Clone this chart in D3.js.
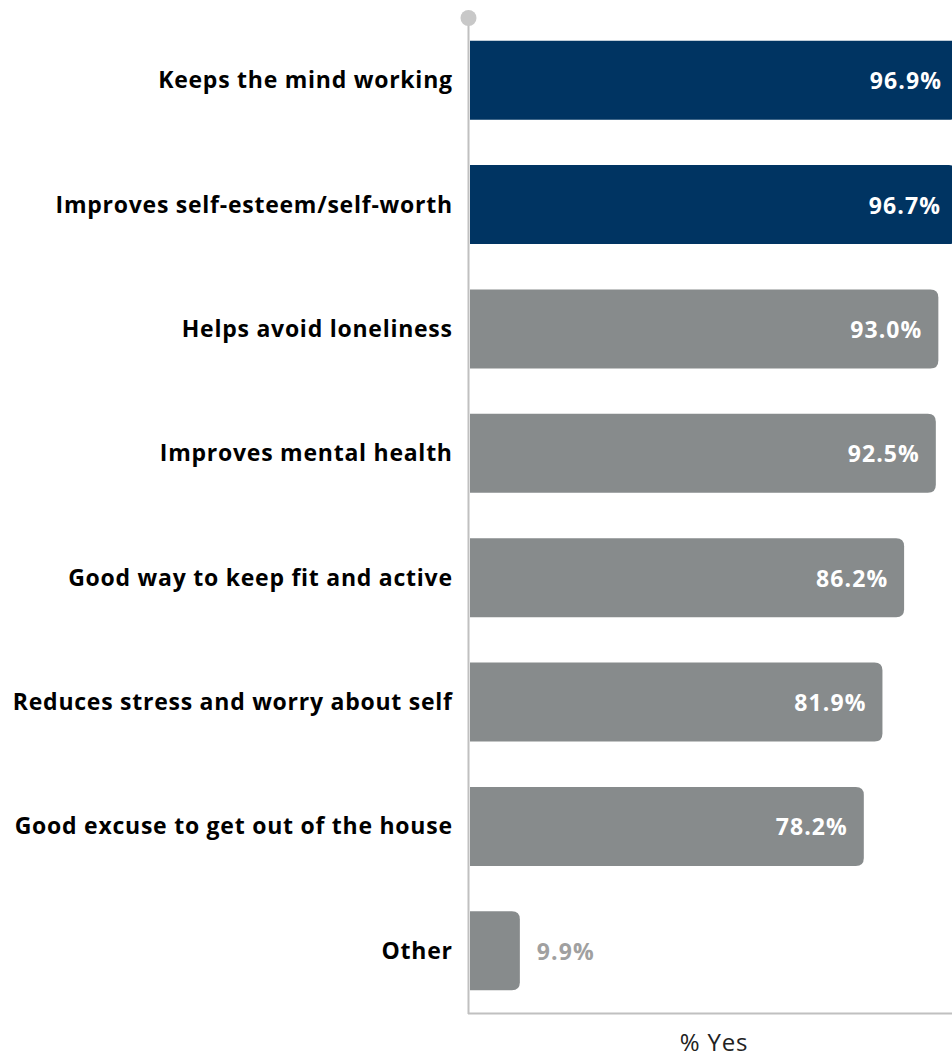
<!DOCTYPE html>
<html>
<head>
<meta charset="utf-8">
<script src="https://cdn.jsdelivr.net/npm/d3@7"></script>
<style>
  html, body { margin: 0; padding: 0; background: #fff; }
  svg { display: block; }
</style>
</head>
<body>
<svg id="chart" width="952" height="1061"></svg>
<script>
const categories = [
  "Keeps the mind working",
  "Improves self-esteem/self-worth",
  "Helps avoid loneliness",
  "Improves mental health",
  "Good way to keep fit and active",
  "Reduces stress and worry about self",
  "Good excuse to get out of the house",
  "Other"
];
const values = [96.9, 96.7, 93.0, 92.5, 86.2, 81.9, 78.2, 9.9];
const highlighted = [true, true, false, false, false, false, false, false];
const axisTitle = "% Yes";

const W = 952, H = 1061;
const x0 = 470;
const svg = d3.select("#chart");
const FONT = "'Open Sans', Lato, sans-serif";

const x = d3.scaleLinear().domain([0, 100]).range([x0, x0 + 503.6]);
const y = d3.scaleBand().domain(categories).range([18, 1013])
  .paddingInner(0.365).paddingOuter(0.1825);

const data = categories.map((c, i) => ({ c, v: values[i], h: highlighted[i] }));
const navy = "#003462", gray = "#878b8c";
const r = 8;

function barPath(d) {
  const xa = x(0), xb = x(d.v), ya = y(d.c), yb = ya + y.bandwidth();
  const rr = Math.min(r, (xb - xa) / 2);
  return `M${xa},${ya}H${xb - rr}Q${xb},${ya} ${xb},${ya + rr}V${yb - rr}Q${xb},${yb} ${xb - rr},${yb}H${xa}Z`;
}

svg.append("g").selectAll("path").data(data).join("path")
  .attr("d", barPath)
  .attr("fill", d => d.h ? navy : gray);

// axes lines
svg.append("line").attr("x1", 468.5).attr("x2", 468.5).attr("y1", 18).attr("y2", 1014)
  .attr("stroke", "#c0c0c0").attr("stroke-width", 2);
svg.append("line").attr("x1", 468).attr("x2", W).attr("y1", 1013.5).attr("y2", 1013.5)
  .attr("stroke", "#c0c0c0").attr("stroke-width", 2);
svg.append("circle").attr("cx", 468.5).attr("cy", 18).attr("r", 8).attr("fill", "#c8c8c8");

// category labels
const LS = 0.75;
svg.append("g").selectAll("text").data(data).join("text")
  .attr("x", 452 + LS)
  .attr("y", d => y(d.c) + y.bandwidth() / 2)
  .attr("dy", "0.35em")
  .attr("text-anchor", "end")
  .attr("font-family", FONT)
  .attr("font-weight", "bold")
  .attr("font-size", 23)
  .attr("letter-spacing", LS)
  .attr("fill", "#000")
  .text(d => d.c);

// value labels
const VLS = 1.1;
svg.append("g").selectAll("text").data(data).join("text")
  .attr("x", d => d.v > 20 ? x(d.v) - 17 + VLS : x(d.v) + 17)
  .attr("y", d => y(d.c) + y.bandwidth() / 2 + 1)
  .attr("dy", "0.35em")
  .attr("text-anchor", d => d.v > 20 ? "end" : "start")
  .attr("font-family", FONT)
  .attr("font-weight", "bold")
  .attr("font-size", 23)
  .attr("letter-spacing", VLS)
  .attr("fill", d => d.v > 20 ? "#fff" : "#a0a0a0")
  .text(d => d.v.toFixed(1) + "%");

svg.append("text")
  .attr("x", (x0 + x(96.9)) / 2)
  .attr("y", 1051)
  .attr("text-anchor", "middle")
  .attr("font-family", FONT)
  .attr("font-size", 24)
  .attr("letter-spacing", 0.8)
  .attr("fill", "#222")
  .text(axisTitle);
</script>
</body>
</html>
